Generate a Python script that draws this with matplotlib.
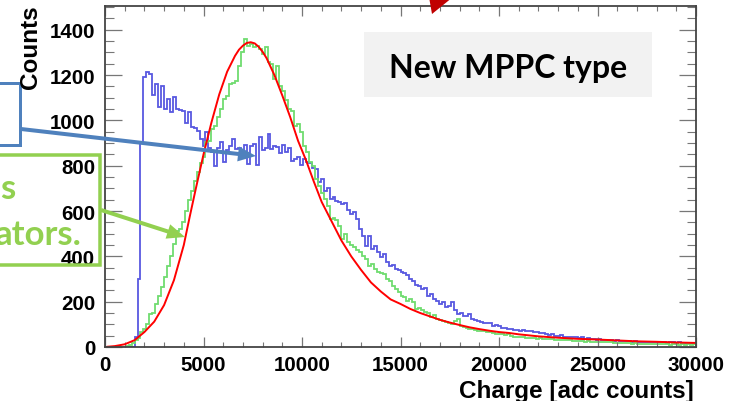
import numpy as np
import matplotlib
matplotlib.use("Agg")
import matplotlib.pyplot as plt
from matplotlib.patches import Rectangle, FancyArrow, Polygon

# ---- data -------------------------------------------------------------
bin_edges = np.linspace(0, 30000, 201)  # 150 adc counts per bin

old_type_counts = [
    0, 0, 0, 0, 0, 0, 0, 0, 0, 0,
    45, 300, 900, 1190, 1215, 1205, 1110, 1160, 1060, 1150,
    1050, 1095, 1035, 1105, 1050, 1045, 1040, 990, 1035, 970,
    965, 955, 918, 887, 948, 880, 860, 800, 880, 905,
    815, 870, 887, 918, 874, 880, 862, 890, 807, 887,
    895, 805, 926, 870, 880, 940, 875, 885, 882, 855,
    892, 860, 880, 820, 830, 840, 805, 830, 815, 810,
    790, 785, 728, 740, 688, 700, 653, 660, 645, 640,
    631, 635, 605, 587, 595, 565, 520, 491, 447, 490,
    432, 445, 418, 397, 410, 375, 359, 362, 344, 340,
    330, 325, 318, 300, 290, 275, 268, 256, 262, 226,
    235, 212, 205, 190, 198, 175, 180, 198, 165, 146,
    150, 138, 135, 145, 124, 118, 116, 110, 104, 104,
    108, 94, 95, 93, 82, 85, 78, 80, 74, 75,
    72, 74, 72, 70, 72, 66, 65, 60, 62, 58,
    55, 58, 50, 48, 52, 44, 46, 45, 42, 44,
    40, 42, 36, 38, 35, 36, 33, 35, 32, 33,
    30, 31, 28, 30, 27, 28, 26, 27, 24, 25,
    23, 24, 22, 23, 21, 22, 20, 21, 20, 22,
    19, 20, 21, 19, 20, 18, 19, 18, 17, 18,
]

new_type_counts = [
    0, 0, 0, 0, 0, 0, 0, 4, 8, 18,
    30, 40, 65, 80, 100, 146, 150, 190, 225, 265,
    309, 359, 403, 454, 513, 520, 551, 600, 650, 690,
    734, 772, 810, 840, 903, 910, 962, 976, 1014, 1050,
    1094, 1109, 1160, 1165, 1175, 1241, 1300, 1359, 1329, 1337,
    1322, 1330, 1315, 1292, 1323, 1256, 1250, 1182, 1240, 1153,
    1130, 1090, 1050, 1040, 976, 985, 947, 888, 860, 815,
    800, 741, 712, 680, 653, 623, 565, 568, 560, 535,
    476, 498, 462, 450, 441, 430, 418, 400, 388, 359,
    365, 345, 330, 325, 322, 300, 290, 270, 256, 241,
    226, 220, 204, 210, 200, 168, 172, 165, 153, 150,
    131, 140, 125, 120, 116, 112, 108, 101, 115, 123,
    94, 90, 82, 79, 80, 76, 72, 72, 70, 65,
    65, 62, 58, 57, 56, 54, 57, 50, 45, 44,
    43, 42, 40, 41, 38, 39, 36, 38, 35, 36,
    34, 35, 33, 32, 30, 31, 29, 30, 28, 27,
    26, 27, 24, 25, 23, 24, 22, 23, 21, 22,
    20, 21, 19, 18, 19, 17, 16, 17, 15, 16,
    14, 15, 14, 13, 14, 13, 12, 13, 12, 13,
    12, 11, 12, 12, 11, 12, 11, 12, 11, 12,
]

fit_charge = [100, 500, 1000, 1500, 2000, 2500, 3000, 3500, 4000, 4300,
              4600, 5000, 5400, 5800, 6200, 6600, 6800, 7000, 7200, 7400,
              7600, 7800, 8000, 8200, 8600, 9000, 9400, 9800, 10200, 10600,
              11000, 11500, 12000, 12500, 13000, 13500, 14000, 14500, 15000, 15500,
              16000, 16500, 17000, 17500, 18000, 18500, 19000, 19500, 20000, 20500,
              21000, 22000, 23000, 24000, 25000, 26000, 27000, 28000, 29000, 30000]
fit_counts = [1, 4, 12, 30, 66, 112, 185, 295, 450, 575,
              695, 850, 990, 1115, 1215, 1285, 1312, 1330, 1342, 1345,
              1340, 1325, 1303, 1275, 1200, 1110, 1015, 910, 825, 730,
              640, 555, 470, 400, 340, 285, 245, 210, 190, 168,
              150, 135, 120, 108, 97, 87, 79, 72, 66, 62,
              56, 47, 41, 36, 33, 29, 25, 23, 20, 18]

x_ticks = [0, 5000, 10000, 15000, 20000, 25000, 30000]
y_ticks = [0, 200, 400, 600, 800, 1000, 1200, 1400]

# ---- figure -----------------------------------------------------------
W, H = 736, 402
fig = plt.figure(figsize=(W / 100, H / 100), dpi=100)
fig.patch.set_facecolor("white")

ax = fig.add_axes([105 / W, 54 / H, 591 / W, 341 / H])
ax.set_xlim(0, 30000)
ax.set_ylim(0, 1505)

ax.stairs(old_type_counts, bin_edges, color="#5858e0", lw=1.3)
ax.stairs(new_type_counts, bin_edges, color="#6fdc6f", lw=1.3)
ax.plot(fit_charge, fit_counts, color="#ff0000", lw=1.4, solid_capstyle="round")

tick_font = dict(family="Liberation Sans", weight="bold", size=14.8)
ax.set_xticks(x_ticks)
ax.set_yticks(y_ticks)
ax.set_xticklabels([str(v) for v in x_ticks], **tick_font)
ax.set_yticklabels([str(v) for v in y_ticks], **tick_font)
ax.set_xticks(np.arange(0, 30001, 1000), minor=True)
ax.set_yticks(np.arange(0, 1501, 50), minor=True)
ax.tick_params(axis="both", which="both", direction="in", top=True, right=True,
               colors="#777777", labelcolor="black")
ax.tick_params(axis="x", which="major", length=7.2, width=0.9, pad=6)
ax.tick_params(axis="x", which="minor", length=3.6, width=0.8)
ax.tick_params(axis="y", which="major", length=12.5, width=0.9, pad=7)
ax.tick_params(axis="y", which="minor", length=6.5, width=0.8)
for s in ax.spines.values():
    s.set_color("#444444")
    s.set_linewidth(1.3)

title_font = dict(family="Liberation Sans", weight="bold", size=17.5)
fig.text(31 / W, 1 - 5 / H, "Counts", rotation=90, ha="center", va="top", **title_font)
fig.text(694 / W, 1 - 398 / H, "Charge [adc counts]", ha="right", va="baseline", **title_font)

# ---- slide overlay in pixel coordinates ---------------------------------
ov = fig.add_axes([0, 0, 1, 1], facecolor="none")
ov.set_xlim(0, W)
ov.set_ylim(H, 0)
ov.axis("off")

blue_c = "#4f81bd"
green_c = "#92d050"
px = 0.72  # points per pixel

ov.add_patch(Rectangle((-30, 84), 50, 62, fill=False, ec=blue_c, lw=3 * px))
ov.add_patch(FancyArrow(21, 130, 256 - 21, 157 - 130, width=4, head_width=15,
                        head_length=18, length_includes_head=True,
                        color=blue_c, lw=0))

ov.add_patch(Rectangle((-30, 156), 130, 110, fill=False, ec=green_c, lw=3.5 * px))
ov.add_patch(FancyArrow(101, 211, 185 - 101, 238 - 211, width=4, head_width=15,
                        head_length=18, length_includes_head=True,
                        color=green_c, lw=0))
slide_font = dict(family="Lato", weight="bold", color=green_c, size=25)
ov.text(15, 199, "s", ha="right", va="baseline", **slide_font)
ov.text(81, 245, "ators.", ha="right", va="baseline", **slide_font)

ov.add_patch(Rectangle((364, 33), 288, 65, fc="#f2f2f2", ec="none"))
ov.text(508, 78, "New MPPC type", ha="center", va="baseline",
        family="Lato", weight="bold", size=23, color="black")

ov.add_patch(Polygon([(429, -2), (453, -2), (432, 15)], closed=True,
                     fc="#c00000", ec="none"))

fig.savefig("out.png", dpi=100)
